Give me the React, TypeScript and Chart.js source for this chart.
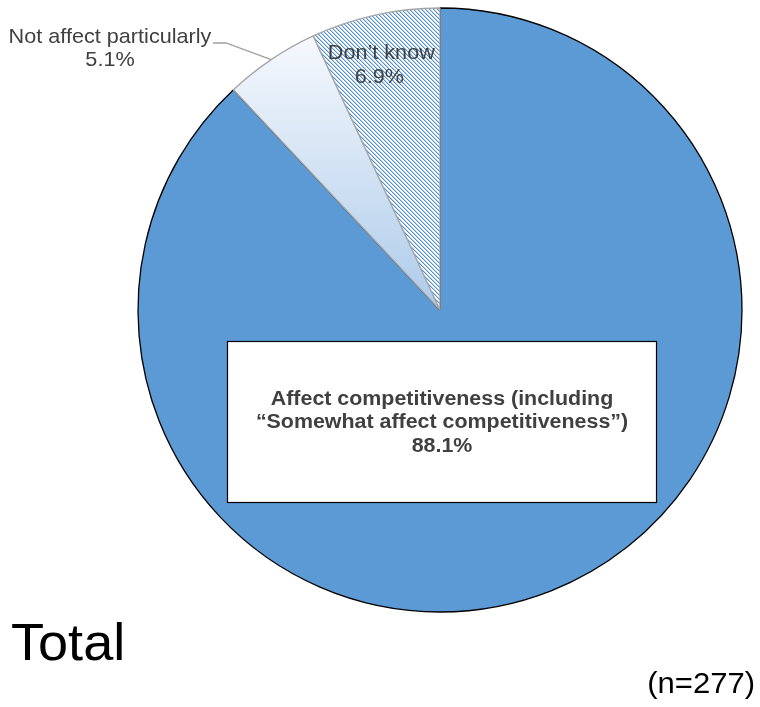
import React, { useEffect, useRef } from "react";
import { Chart, registerables } from "chart.js";

Chart.register(...registerables);

const categories = [
  "Affect competitiveness (including “Somewhat affect competitiveness”)",
  "Not affect particularly",
  "Don’t know",
];
const values = [88.1, 5.1, 6.9];
const valueLabels = ["88.1%", "5.1%", "6.9%"];
const title = "Total";
const sampleNote = "(n=277)";

const FONT = '"Liberation Sans", Arial, sans-serif';

function makeHatch(): CanvasPattern | string {
  const c = document.createElement("canvas");
  c.width = 4;
  c.height = 4;
  const g = c.getContext("2d");
  if (!g) return "#5b9bd5";
  g.fillStyle = "#ffffff";
  g.fillRect(0, 0, 4, 4);
  for (let i = 0; i < 4; i++) {
    g.fillStyle = "#4f8ed0";
    g.fillRect(i, i, 1, 1);
    g.fillStyle = "#b9d3ee";
    g.fillRect((i + 1) % 4, i, 1, 1);
  }
  const p = g.createPattern(c, "repeat");
  return p || "#5b9bd5";
}

function stretchText(ctx: CanvasRenderingContext2D, text: string, x: number, y: number, sx: number) {
  ctx.save();
  ctx.translate(x, y);
  ctx.scale(sx, 1);
  ctx.fillText(text, 0, 0);
  ctx.restore();
}

const overlayPlugin = {
  id: "overlay",
  afterDatasetsDraw(chart: any) {
    const ctx = chart.ctx as CanvasRenderingContext2D;
    const arcs = chart.getDatasetMeta(0).data as any[];
    ctx.save();

    // Affect box
    const a0 = arcs[0];
    const cx = a0.x;
    const cy = a0.y;
    const r = a0.outerRadius;
    const bx = Math.round(cx - 0.705 * r) + 0.5;
    const by = Math.round(cy + 0.103 * r) + 0.5;
    const bw = Math.round(1.42 * r);
    const bh = Math.round(0.533 * r);
    ctx.fillStyle = "#ffffff";
    ctx.fillRect(bx, by, bw, bh);
    ctx.strokeStyle = "#000000";
    ctx.lineWidth = 1.2;
    ctx.strokeRect(bx, by, bw, bh);
    ctx.fillStyle = "#404040";
    ctx.font = `bold 20px ${FONT}`;
    ctx.textAlign = "center";
    ctx.textBaseline = "middle";
    const tx = bx + bw / 2;
    const ty = by + bh / 2 + 0.5;
    stretchText(ctx, "Affect competitiveness (including", tx, ty - 23.5, 1.07);
    stretchText(ctx, "“Somewhat affect competitiveness”)", tx, ty, 1.07);
    stretchText(ctx, valueLabels[0], tx, ty + 23.5, 1.07);

    // Don't know label (placed inside its slice)
    ctx.font = `21px ${FONT}`;
    const a2 = arcs[2];
    const ang2 = -Math.PI / 2 - 0.235;
    const lx = a2.x + Math.cos(ang2) * r * 0.835;
    const ly = a2.y + Math.sin(ang2) * r * 0.835;
    stretchText(ctx, categories[2], lx, ly - 12, 1.03);
    stretchText(ctx, valueLabels[2], lx - 2, ly + 12, 1.03);

    // Not affect label with leader line
    const a1 = arcs[1];
    const mid = (a1.startAngle + a1.endAngle) / 2;
    const px = a1.x + Math.cos(mid) * r;
    const py = a1.y + Math.sin(mid) * r;
    ctx.strokeStyle = "#a0a0a0";
    ctx.lineWidth = 1.3;
    ctx.beginPath();
    ctx.moveTo(px, py);
    ctx.lineTo(226, 43);
    ctx.lineTo(213, 43);
    ctx.stroke();
    ctx.fillStyle = "#404040";
    stretchText(ctx, categories[1], 110, 37, 1.03);
    stretchText(ctx, valueLabels[1], 110, 60, 1.03);

    // Title and note
    ctx.fillStyle = "#000000";
    ctx.textAlign = "left";
    ctx.textBaseline = "alphabetic";
    ctx.font = `52px ${FONT}`;
    stretchText(ctx, title, 11, 660, 1.04);
    ctx.textAlign = "right";
    ctx.font = `29px ${FONT}`;
    stretchText(ctx, sampleNote, 755, 693, 1.07);
    ctx.restore();
  },
};

export default function App() {
  const ref = useRef<HTMLCanvasElement | null>(null);
  useEffect(() => {
    if (!ref.current) return;
    const hatch = makeHatch();
    const chart = new Chart(ref.current, {
      type: "pie",
      data: {
        labels: categories,
        datasets: [
          {
            data: values,
            backgroundColor: (c: any) => {
              if (c.dataIndex === 0) return "#5b9ad5";
              if (c.dataIndex === 2) return hatch;
              const area = c.chart.chartArea;
              if (!area) return "#d6e5f5";
              const g = c.chart.ctx.createLinearGradient(0, 40, 0, 310);
              g.addColorStop(0, "#f5f8fd");
              g.addColorStop(1, "#adcbea");
              return g;
            },
            borderColor: ["#000000", "#a6a6a6", "#a6a6a6"],
            borderWidth: [1.3, 1.3, 1.3],
            radius: 302,
          } as any,
        ],
      },
      options: {
        responsive: false,
        animation: false,
        layout: { padding: { left: 138, right: 18, top: 8, bottom: 95 } },
        plugins: {
          legend: { display: false },
          tooltip: { enabled: false },
          title: { display: false },
        },
      },
      plugins: [overlayPlugin],
    });
    return () => chart.destroy();
  }, []);
  return (
    <div style={{ position: "fixed", left: 0, top: 0, width: 760, height: 707, background: "#fff" }}>
      <canvas ref={ref} width={760} height={707} style={{ display: "block" }} />
    </div>
  );
}
